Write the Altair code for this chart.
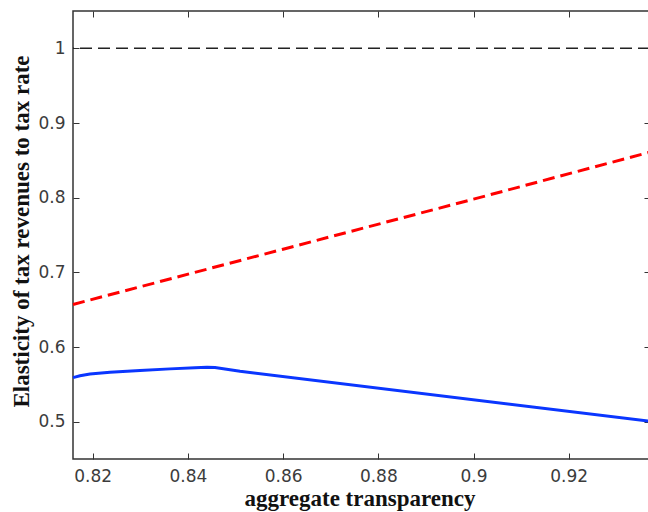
import altair as alt
import pandas as pd

# Elasticity curves against aggregate transparency
blue_x = [0.81586, 0.81733, 0.81943, 0.82363, 0.82994, 0.83624, 0.84149,
          0.84401, 0.84569, 0.85095, 0.93708]
blue_y = [0.5590, 0.5615, 0.5638, 0.5663, 0.5686, 0.5707, 0.5722,
          0.5729, 0.5724, 0.5674, 0.5005]

red_x = [0.81586, 0.86, 0.90, 0.93708]
red_y = [0.657, 0.731, 0.798, 0.861]

ref_level = 1.0

x_ticks = [0.82, 0.84, 0.86, 0.88, 0.90, 0.92]
y_ticks = [0.5, 0.6, 0.7, 0.8, 0.9, 1.0]
x_domain = [0.81586, 0.93708]
y_domain = [0.45, 1.05]

W, H = 577, 448
LABEL_FONT = "DejaVu Sans"
TITLE_FONT = "Liberation Serif"
INK = "#333333"

blue = pd.DataFrame({"x": blue_x, "y": blue_y})
red = pd.DataFrame({"x": red_x, "y": red_y})

xs = alt.Scale(domain=x_domain, nice=False, zero=False)
ys = alt.Scale(domain=y_domain, nice=False, zero=False)

common = dict(domain=False, grid=False, tickSize=6, tickColor=INK, tickWidth=1,
              offset=-6)

x_bottom = alt.Axis(
    orient="bottom", values=x_ticks, format="~g",
    labelFont=LABEL_FONT, labelFontSize=17, labelColor="#3c3c3c", labelPadding=9,
    labelFlush=False, labelOverlap=False,
    title="aggregate transparency", titleFont=TITLE_FONT, titleFontSize=23,
    titleFontWeight="bold", titleColor="#111111", titleX=W / 2 - 2, titleY=52,
    titleBaseline="alphabetic", titleAlign="center",
    **common,
)
y_left = alt.Axis(
    orient="left", values=y_ticks, format="~g",
    labelFont=LABEL_FONT, labelFontSize=17, labelColor="#3c3c3c", labelPadding=8,
    labelFlush=False, labelOverlap=False,
    title="Elasticity of tax revenues to tax rate", titleFont=TITLE_FONT,
    titleFontSize=23, titleFontWeight="bold", titleColor="#111111",
    titleAngle=270, titleX=-51, titleY=H / 2 - 4, titleBaseline="alphabetic",
    titleAlign="center",
    **common,
)
x_top = alt.Axis(orient="top", values=x_ticks, labels=False, title=None, **common)
y_right = alt.Axis(orient="right", values=y_ticks, labels=False, title=None, **common)

blue_line = alt.Chart(blue).mark_line(color="#0a36ff", strokeWidth=3).encode(
    x=alt.X("x:Q", scale=xs, axis=x_bottom),
    y=alt.Y("y:Q", scale=ys, axis=y_left),
)

red_line = alt.Chart(red).mark_line(
    color="#ff0000", strokeWidth=3, strokeDash=[12, 6], strokeCap="butt"
).encode(
    x=alt.X("x:Q", scale=xs, axis=x_top),
    y=alt.Y("y:Q", scale=ys, axis=y_right),
)

unit_line = alt.Chart(pd.DataFrame({"level": [ref_level]})).mark_rule(
    color="#222222", strokeWidth=1.5, strokeDash=[12, 6]
).encode(
    y=alt.Y("level:Q", scale=ys, axis=None),
)

chart = (
    alt.layer(blue_line, red_line, unit_line)
    .resolve_axis(x="independent", y="independent")
    .properties(
        width=W,
        height=H,
        autosize=alt.AutoSizeParams(type="none"),
        padding={"left": 73, "top": 11, "right": -2, "bottom": 53},
        background="white",
    )
    .configure_view(stroke=INK, strokeWidth=1.5)
)

chart.save("out.html", embed_options={"renderer": "svg", "actions": False})
